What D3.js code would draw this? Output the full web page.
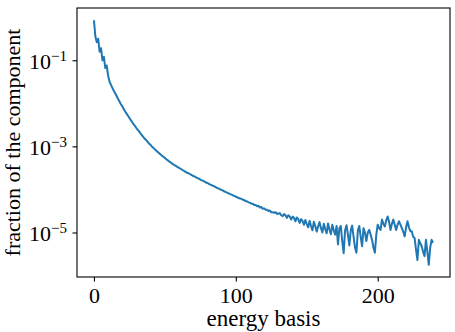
<!DOCTYPE html>
<html>
<head>
<meta charset="utf-8">
<script src="https://cdn.jsdelivr.net/npm/d3@7"></script>
<style>
  body { margin: 0; background: #fff; }
  svg text { font-family: 'Liberation Serif', 'Times New Roman', serif; fill: #000; }
</style>
</head>
<body>
<div class="chart"></div>
<script>
const width = 455;
const height = 332;
const margin = { top: 8, right: 5, bottom: 55, left: 77 };

// energy basis index (x) and log10 of the fraction of the component
const energyBasis = d3.range(240);
const logFraction = [
  -0.07, -0.45, -0.58, -0.50, -0.80, -0.72, -1.00, -0.92, -1.18, -1.12,
  -1.36, -1.50, -1.57, -1.64, -1.71, -1.77, -1.83, -1.90, -1.96, -2.02,
  -2.07, -2.13, -2.19, -2.24, -2.29, -2.34, -2.39, -2.44, -2.49, -2.53,
  -2.58, -2.62, -2.66, -2.71, -2.75, -2.79, -2.83, -2.86, -2.90, -2.94,
  -2.97, -3.01, -3.04, -3.07, -3.10, -3.13, -3.16, -3.19, -3.22, -3.24,
  -3.27, -3.30, -3.32, -3.35, -3.37, -3.40, -3.42, -3.44, -3.46, -3.48,
  -3.50, -3.52, -3.54, -3.56, -3.58, -3.60, -3.62, -3.63, -3.65, -3.67,
  -3.69, -3.70, -3.72, -3.74, -3.75, -3.77, -3.79, -3.80, -3.82, -3.84,
  -3.85, -3.87, -3.89, -3.90, -3.92, -3.93, -3.95, -3.97, -3.98, -4.00,
  -4.01, -4.03, -4.05, -4.06, -4.08, -4.09, -4.11, -4.12, -4.14, -4.15,
  -4.17, -4.18, -4.20, -4.21, -4.22, -4.24, -4.25, -4.27, -4.28, -4.30,
  -4.31, -4.33, -4.33, -4.36, -4.36, -4.39, -4.38, -4.42, -4.41, -4.45,
  -4.44, -4.47, -4.47, -4.50, -4.49, -4.53, -4.53, -4.54, -4.53, -4.57,
  -4.56, -4.55, -4.60, -4.62, -4.57, -4.60, -4.66, -4.60, -4.63, -4.70,
  -4.63, -4.66, -4.74, -4.65, -4.69, -4.78, -4.69, -4.73, -4.82, -4.71,
  -4.80, -4.88, -4.73, -4.85, -4.95, -4.75, -4.85, -4.98, -4.86, -4.76,
  -4.90, -5.00, -4.80, -4.92, -5.02, -4.79, -4.93, -5.04, -4.82, -4.95,
  -5.05, -4.85, -5.28, -4.90, -4.85, -5.20, -5.48, -4.95, -4.83, -5.05,
  -5.30, -4.95, -4.84, -5.10, -5.35, -5.47, -4.95, -4.85, -5.10, -5.32,
  -4.90, -5.00, -5.20, -5.00, -4.94, -5.05, -5.17, -5.35, -5.47, -5.05,
  -4.82, -4.90, -4.94, -4.70, -4.80, -4.86, -4.72, -4.63, -4.75, -4.94,
  -4.80, -4.70, -4.82, -4.94, -4.82, -4.74, -4.82, -4.90, -4.98, -5.09,
  -4.88, -4.74, -4.88, -4.97, -4.97, -5.10, -5.13, -5.40, -5.64, -5.17,
  -5.25, -5.32, -5.45, -5.55, -5.17, -5.45, -5.75, -5.35, -5.17, -5.24
];

const xTicks = [0, 100, 200];
const yTickExponents = [-1, -3, -5];

const data = energyBasis.map((e, i) => ({ x: e, y: Math.pow(10, logFraction[i]) }));

const svg = d3
  .select('.chart')
  .append('svg')
  .attr('width', width)
  .attr('height', height);

// matplotlib-like 5% margins
const xExt = d3.extent(energyBasis);
const xPad = (xExt[1] - xExt[0]) * 0.05;
const lExt = d3.extent(logFraction);
const lPad = (lExt[1] - lExt[0]) * 0.05;

const x = d3
  .scaleLinear()
  .domain([xExt[0] - xPad, xExt[1] + xPad])
  .range([margin.left, width - margin.right]);

const y = d3
  .scaleLog()
  .domain([Math.pow(10, lExt[0] - lPad), Math.pow(10, lExt[1] + lPad)])
  .range([height - margin.bottom, margin.top]);

const line = d3
  .line()
  .x(d => x(d.x))
  .y(d => y(d.y));

svg
  .append('path')
  .datum(data)
  .attr('fill', 'none')
  .attr('stroke', '#1f77b4')
  .attr('stroke-width', 2)
  .attr('stroke-linejoin', 'round')
  .attr('d', line);

// frame
svg
  .append('rect')
  .attr('x', margin.left)
  .attr('y', margin.top)
  .attr('width', width - margin.left - margin.right)
  .attr('height', height - margin.top - margin.bottom)
  .attr('fill', 'none')
  .attr('stroke', '#000')
  .attr('stroke-width', 1.1);

const xAxis = svg
  .append('g')
  .attr('transform', `translate(0,${height - margin.bottom})`)
  .call(d3.axisBottom(x).tickValues(xTicks).tickSize(4.5).tickFormat(''));

const yAxis = svg
  .append('g')
  .attr('transform', `translate(${margin.left},0)`)
  .call(d3.axisLeft(y).tickValues(yTickExponents.map(e => Math.pow(10, e))).tickSize(4.5).tickFormat(''));

svg.selectAll('.domain').remove();
svg.selectAll('.tick line').attr('stroke', '#000').attr('stroke-width', 1.1);

xAxis
  .selectAll('.tick')
  .append('text')
  .attr('y', 26)
  .attr('text-anchor', 'middle')
  .style('font-size', '22px')
  .text(d => d);

yAxis
  .selectAll('.tick')
  .data(yTickExponents)
  .append('text')
  .attr('x', -10)
  .attr('y', 8)
  .attr('text-anchor', 'end')
  .style('font-size', '22px')
  .each(function (e) {
    const t = d3.select(this);
    t.append('tspan').text('10');
    t.append('tspan').attr('dy', -8).style('font-size', '15px').text('\u2212' + Math.abs(e));
  });

svg
  .append('text')
  .attr('x', (margin.left + width - margin.right) / 2)
  .attr('y', 326)
  .attr('text-anchor', 'middle')
  .style('font-size', '23px')
  .text('energy basis');

svg
  .append('text')
  .attr('transform', `translate(20,${(margin.top + height - margin.bottom) / 2}) rotate(-90)`)
  .attr('text-anchor', 'middle')
  .style('font-size', '22px')
  .text('fraction of the component');
</script>
</body>
</html>
